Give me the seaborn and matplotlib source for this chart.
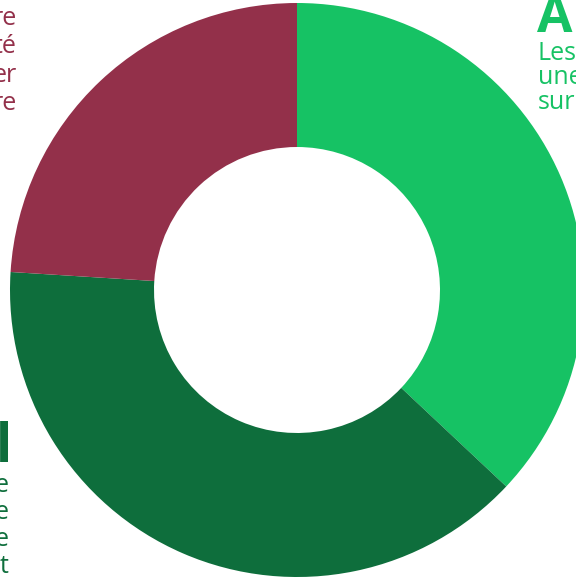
import matplotlib
matplotlib.use("Agg")
import matplotlib.pyplot as plt
import seaborn as sns

# data (share of the ring, clockwise from 12 o'clock)
categories = ["A", "B", "C"]
shares = [37, 39, 24]
colors = ["#16C264", "#0E6E3C", "#93304A"]

# fragments of the labels that are visible at the edges
left_top_lines = ["re", "té", "er", "re"]
right_top_title = "A"
right_top_lines = ["Les", "une", "sur"]
left_bottom_title = "l"
left_bottom_lines = ["e", "e", "e", "t"]

sns.set_style("white")
plt.rcParams["font.family"] = ["Open Sans", "DejaVu Sans"]

fig = plt.figure(figsize=(5.76, 5.80), dpi=100)
ax = fig.add_axes([0, 0, 1, 1])

# pie on an inverted y axis runs the other way, so counterclock=True gives clockwise on screen
ax.pie(
    shares,
    colors=colors,
    startangle=-90,
    counterclock=True,
    center=(297, 290),
    radius=287,
    wedgeprops=dict(width=144, edgecolor="none"),
    frame=True,
)
ax.set_xlim(0, 576)
ax.set_ylim(580, 0)
ax.set_aspect("equal")
ax.axis("off")

# text fragments (baselines)
for i, t in enumerate(left_top_lines):
    ax.text(17, 25 + i * 28.3, t, color="#93304A", fontsize=18, ha="right", va="baseline")

ax.text(537, 32, right_top_title, color="#16C264", fontsize=37, fontweight="bold",
        ha="left", va="baseline")
for i, t in enumerate(right_top_lines):
    ax.text(538, 60 + i * 24.5, t, color="#16C264", fontsize=18, ha="left", va="baseline")

ax.text(-4, 462, left_bottom_title, color="#0E6E3C", fontsize=38, fontweight="bold",
        ha="left", va="baseline")
for i, t in enumerate(left_bottom_lines):
    ax.text(9, 492 + i * 27, t, color="#0E6E3C", fontsize=18, ha="right", va="baseline")

fig.savefig("out.png", dpi=100)
